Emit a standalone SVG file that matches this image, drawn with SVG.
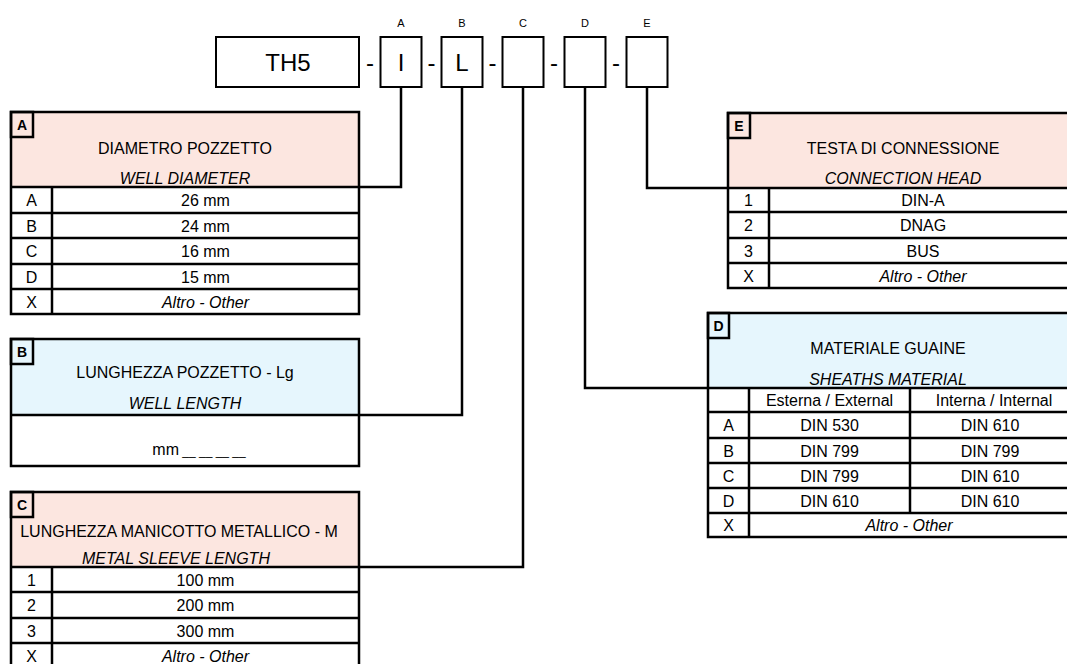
<svg xmlns="http://www.w3.org/2000/svg" width="1067" height="664" viewBox="0 0 1067 664">
<style>
.bx{fill:none;stroke:#000;stroke-width:2}
.tb{fill:none;stroke:#000;stroke-width:2.5}
.ln{stroke:#000;stroke-width:2.5}
.cn{fill:none;stroke:#000;stroke-width:2.5}
.pk{fill:#FCE6E0}
.bl{fill:#E6F6FD}
.t{font-family:"Liberation Sans",Arial,sans-serif;font-size:16px;text-anchor:middle;fill:#000}
.i{font-style:italic}
.big{font-size:24px}
.sm{font-size:11px}
.bd{font-family:"Liberation Sans",Arial,sans-serif;font-size:14px;font-weight:bold;text-anchor:middle;fill:#000}
</style>
<rect width="1067" height="664" fill="#fff"/>

<g id="code">
<rect class="bx" x="216" y="37" width="143" height="50"/>
<text class="t big" x="288" y="71">TH5</text>
<text class="t big" x="370" y="71">-</text>
<rect class="bx" x="380.5" y="37" width="41" height="50"/>
<text class="t big" x="401" y="71">I</text>
<text class="t big" x="431.5" y="71">-</text>
<rect class="bx" x="441.5" y="37" width="41" height="50"/>
<text class="t big" x="462" y="71">L</text>
<text class="t big" x="492.5" y="71">-</text>
<rect class="bx" x="502.5" y="37" width="41" height="50"/>
<text class="t big" x="554" y="71">-</text>
<rect class="bx" x="564.5" y="37" width="41" height="50"/>
<text class="t big" x="616" y="71">-</text>
<rect class="bx" x="626.5" y="37" width="41" height="50"/>
<text class="t sm" x="401" y="27">A</text>
<text class="t sm" x="462" y="27">B</text>
<text class="t sm" x="523" y="27">C</text>
<text class="t sm" x="585" y="27">D</text>
<text class="t sm" x="647" y="27">E</text>
</g>

<g id="connectors">
<polyline class="cn" points="401,87 401,187 359,187"/>
<polyline class="cn" points="462,87 462,415 359,415"/>
<polyline class="cn" points="523,87 523,567 359,567"/>
<polyline class="cn" points="585,87 585,388 708,388"/>
<polyline class="cn" points="647,87 647,188 728,188"/>
</g>

<g id="table-A">
<rect class="pk" x="11" y="112" width="348" height="75"/>
<line class="ln" x1="11" y1="187" x2="359" y2="187"/>
<line class="ln" x1="11" y1="213" x2="359" y2="213"/>
<line class="ln" x1="11" y1="238" x2="359" y2="238"/>
<line class="ln" x1="11" y1="264" x2="359" y2="264"/>
<line class="ln" x1="11" y1="289" x2="359" y2="289"/>
<line class="ln" x1="52" y1="187" x2="52" y2="314"/>
<rect class="tb" x="11" y="112" width="348" height="202"/>
<rect class="tb" x="11" y="112" width="22" height="25"/>
<text class="bd" x="22" y="130">A</text>
<text class="t" x="185" y="154">DIAMETRO POZZETTO</text>
<text class="t i" x="185" y="184">WELL DIAMETER</text>
<text class="t" x="31.5" y="206">A</text><text class="t" x="205.5" y="206">26 mm</text>
<text class="t" x="31.5" y="231.5">B</text><text class="t" x="205.5" y="231.5">24 mm</text>
<text class="t" x="31.5" y="257">C</text><text class="t" x="205.5" y="257">16 mm</text>
<text class="t" x="31.5" y="282.5">D</text><text class="t" x="205.5" y="282.5">15 mm</text>
<text class="t" x="31.5" y="307.5">X</text><text class="t i" x="205.5" y="307.5">Altro - Other</text>
</g>

<g id="table-B">
<rect class="bl" x="11" y="339" width="348" height="76"/>
<line class="ln" x1="11" y1="415" x2="359" y2="415"/>
<rect class="tb" x="11" y="339" width="348" height="127"/>
<rect class="tb" x="11" y="339" width="22" height="25"/>
<text class="bd" x="22" y="357">B</text>
<text class="t" x="185" y="378">LUNGHEZZA POZZETTO - Lg</text>
<text class="t i" x="185" y="409">WELL LENGTH</text>
<text class="t" x="199" y="455">mm<tspan font-size="12"> __ __ __ __</tspan></text>
</g>

<g id="table-C">
<rect class="pk" x="11" y="492" width="348" height="75"/>
<line class="ln" x1="11" y1="567" x2="359" y2="567"/>
<line class="ln" x1="11" y1="592" x2="359" y2="592"/>
<line class="ln" x1="11" y1="618" x2="359" y2="618"/>
<line class="ln" x1="11" y1="643" x2="359" y2="643"/>
<line class="ln" x1="52" y1="567" x2="52" y2="668"/>
<rect class="tb" x="11" y="492" width="348" height="176"/>
<rect class="tb" x="11" y="492" width="22" height="25"/>
<text class="bd" x="22" y="510">C</text>
<text class="t" x="179" y="537" font-size="16.5">LUNGHEZZA MANICOTTO METALLICO - M</text>
<text class="t i" x="176" y="564">METAL SLEEVE LENGTH</text>
<text class="t" x="31.5" y="585.5">1</text><text class="t" x="205.5" y="585.5">100 mm</text>
<text class="t" x="31.5" y="611">2</text><text class="t" x="205.5" y="611">200 mm</text>
<text class="t" x="31.5" y="636.5">3</text><text class="t" x="205.5" y="636.5">300 mm</text>
<text class="t" x="31.5" y="661.5">X</text><text class="t i" x="205.5" y="661.5">Altro - Other</text>
</g>

<g id="table-E">
<rect class="pk" x="728" y="113" width="350" height="75"/>
<line class="ln" x1="728" y1="188" x2="1078" y2="188"/>
<line class="ln" x1="728" y1="212" x2="1078" y2="212"/>
<line class="ln" x1="728" y1="238" x2="1078" y2="238"/>
<line class="ln" x1="728" y1="263" x2="1078" y2="263"/>
<line class="ln" x1="769" y1="188" x2="769" y2="288"/>
<rect class="tb" x="728" y="113" width="350" height="175"/>
<rect class="tb" x="728" y="113" width="22" height="25"/>
<text class="bd" x="739" y="131">E</text>
<text class="t" x="903" y="154">TESTA DI CONNESSIONE</text>
<text class="t i" x="903" y="184">CONNECTION HEAD</text>
<text class="t" x="748.5" y="206">1</text><text class="t" x="923" y="206">DIN-A</text>
<text class="t" x="748.5" y="231">2</text><text class="t" x="923" y="231">DNAG</text>
<text class="t" x="748.5" y="256.5">3</text><text class="t" x="923" y="256.5">BUS</text>
<text class="t" x="748.5" y="281.5">X</text><text class="t i" x="923" y="281.5">Altro - Other</text>
</g>

<g id="table-D">
<rect class="bl" x="708" y="313" width="362" height="75"/>
<line class="ln" x1="708" y1="388" x2="1070" y2="388"/>
<line class="ln" x1="708" y1="412" x2="1070" y2="412"/>
<line class="ln" x1="708" y1="438" x2="1070" y2="438"/>
<line class="ln" x1="708" y1="463" x2="1070" y2="463"/>
<line class="ln" x1="708" y1="488" x2="1070" y2="488"/>
<line class="ln" x1="708" y1="513" x2="1070" y2="513"/>
<line class="ln" x1="749" y1="388" x2="749" y2="537"/>
<line class="ln" x1="910" y1="388" x2="910" y2="513"/>
<rect class="tb" x="708" y="313" width="362" height="224"/>
<rect class="tb" x="708" y="313" width="21" height="25"/>
<text class="bd" x="718.5" y="331">D</text>
<text class="t" x="888" y="354">MATERIALE GUAINE</text>
<text class="t i" x="888" y="385">SHEATHS MATERIAL</text>
<text class="t" x="829.5" y="406">Esterna / External</text>
<text class="t" x="994" y="406">Interna / Internal</text>
<text class="t" x="728.5" y="431">A</text><text class="t" x="829.5" y="431">DIN 530</text><text class="t" x="990" y="431">DIN 610</text>
<text class="t" x="728.5" y="456.5">B</text><text class="t" x="829.5" y="456.5">DIN 799</text><text class="t" x="990" y="456.5">DIN 799</text>
<text class="t" x="728.5" y="481.5">C</text><text class="t" x="829.5" y="481.5">DIN 799</text><text class="t" x="990" y="481.5">DIN 610</text>
<text class="t" x="728.5" y="506.5">D</text><text class="t" x="829.5" y="506.5">DIN 610</text><text class="t" x="990" y="506.5">DIN 610</text>
<text class="t" x="728.5" y="531">X</text><text class="t i" x="909" y="531">Altro - Other</text>
</g>
</svg>
